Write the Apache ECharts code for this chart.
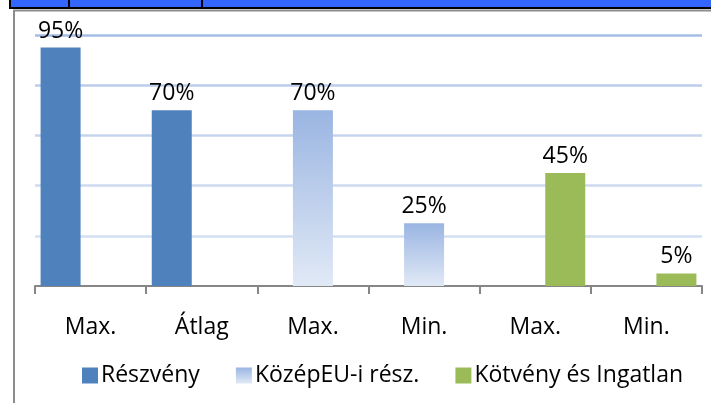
<!DOCTYPE html>
<html>
<head>
<meta charset="utf-8">
<script src="https://cdn.jsdelivr.net/npm/echarts@6/dist/echarts.min.js"></script>
<style>
  html, body { margin: 0; padding: 0; background: #fff; }
  #chart { width: 711px; height: 403px; }
</style>
</head>
<body>
<div id="chart"></div>
<script>
const categories = ['Max.', 'Átlag', 'Max.', 'Min.', 'Max.', 'Min.'];
const seriesNames = ['Részvény', 'KözépEU-i rész.', 'Kötvény és Ingatlan'];
const reszveny = [95, 70, null, null, null, null];
const kozepEu = [null, null, 70, 25, null, null];
const kotveny = [null, null, null, null, 45, 5];
const headerTexts = ['100%', 'Portfolio'];

const chart = echarts.init(document.getElementById('chart'));
const font = '"Open Sans", sans-serif';

const label = {
  show: true,
  position: 'top',
  distance: 5,
  formatter: p => p.value + '%',
  color: '#000',
  fontFamily: font,
  fontSize: 23
};

const option = {
  animation: false,
  backgroundColor: '#fff',
  grid: { left: 35, right: 9, top: 35, height: 251 },
  legend: {
    data: seriesNames,
    left: 77,
    top: 359,
    itemWidth: 16,
    itemHeight: 16,
    itemGap: 36,
    icon: 'rect',
    textStyle: { fontFamily: font, fontSize: 23, color: '#000', padding: [0, 0, 0, -2] }
  },
  xAxis: {
    type: 'category',
    data: categories,
    axisLine: { lineStyle: { color: '#868686', width: 2 } },
    axisTick: { show: true, length: 8, lineStyle: { color: '#868686', width: 2 } },
    axisLabel: { fontFamily: font, fontSize: 23, color: '#000', margin: 30 }
  },
  yAxis: {
    type: 'value',
    min: 0,
    max: 100,
    interval: 20,
    axisLabel: { show: false },
    axisLine: { show: false },
    axisTick: { show: false },
    splitLine: {
      lineStyle: {
        width: 2.5,
        color: ['#ffffff', '#d3dff2', '#cddaf0', '#c6d5ee', '#bccdeb', '#a3bde5']
      }
    }
  },
  series: [
    {
      name: seriesNames[0],
      type: 'bar',
      data: reszveny,
      barWidth: 40,
      barGap: '-25%',
      itemStyle: { color: '#4f81bd' },
      label: label
    },
    {
      name: seriesNames[1],
      type: 'bar',
      data: kozepEu,
      barWidth: 40,
      barGap: '-25%',
      itemStyle: {
        color: new echarts.graphic.LinearGradient(0, 0, 0, 1, [
          { offset: 0, color: '#9ab5e2' },
          { offset: 1, color: '#e1e9f6' }
        ])
      },
      label: label
    },
    {
      name: seriesNames[2],
      type: 'bar',
      data: kotveny,
      barWidth: 40,
      barGap: '-25%',
      itemStyle: { color: '#9bbb59' },
      label: label
    }
  ],
  graphic: [
    { type: 'rect', shape: { x: 10, y: -4, width: 710, height: 12 },
      style: { fill: '#3366ff', stroke: '#000', lineWidth: 2 } },
    { type: 'line', shape: { x1: 69, y1: 0, x2: 69, y2: 8 }, style: { stroke: '#000', lineWidth: 2 } },
    { type: 'line', shape: { x1: 202, y1: 0, x2: 202, y2: 8 }, style: { stroke: '#000', lineWidth: 2 } },
    { type: 'text', x: 114, y: -20, style: { text: headerTexts[0], fill: '#fff', font: 'bold 18px "Open Sans"' } },
    { type: 'text', x: 228, y: -20, style: { text: headerTexts[1], fill: '#fff', font: 'bold 18px "Open Sans"' } },
    { type: 'line', shape: { x1: 13, y1: 10.5, x2: 711, y2: 10.5 }, style: { stroke: '#8c8c8c', lineWidth: 2 } },
    { type: 'line', shape: { x1: 14, y1: 10, x2: 14, y2: 403 }, style: { stroke: '#8c8c8c', lineWidth: 2 } }
  ]
};

chart.setOption(option);
</script>
</body>
</html>
